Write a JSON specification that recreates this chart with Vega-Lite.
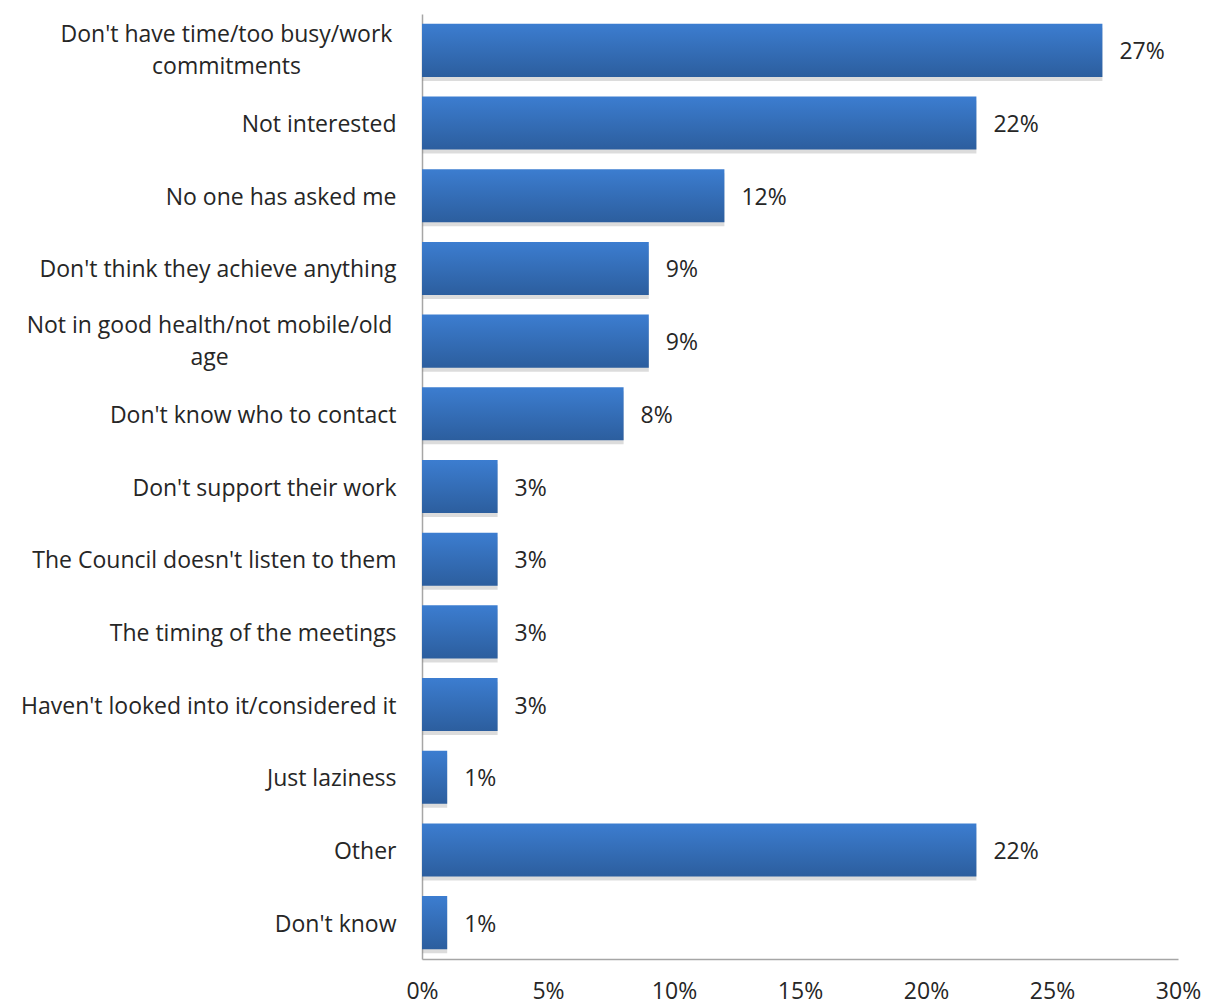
{
  "$schema": "https://vega.github.io/schema/vega-lite/v6.json",
  "width": 756,
  "height": 945,
  "autosize": "none",
  "padding": {"left": 422, "top": 14, "right": 27, "bottom": 46},
  "background": "white",
  "config": {"font": "Open Sans", "view": {"stroke": null}},
  "data": {
    "values": [
      {"reason": "Don't have time/too busy/work|commitments", "pct": 0.27},
      {"reason": "Not interested", "pct": 0.22},
      {"reason": "No one has asked me", "pct": 0.12},
      {"reason": "Don't think they achieve anything", "pct": 0.09},
      {"reason": "Not in good health/not mobile/old|age", "pct": 0.09},
      {"reason": "Don't know who to contact", "pct": 0.08},
      {"reason": "Don't support their work", "pct": 0.03},
      {"reason": "The Council doesn't listen to them", "pct": 0.03},
      {"reason": "The timing of the meetings", "pct": 0.03},
      {"reason": "Haven't looked into it/considered it", "pct": 0.03},
      {"reason": "Just laziness", "pct": 0.01},
      {"reason": "Other", "pct": 0.22},
      {"reason": "Don't know", "pct": 0.01}
    ]
  },
  "encoding": {
    "y": {
      "field": "reason",
      "type": "nominal",
      "sort": null,
      "scale": {"paddingInner": 0.27, "paddingOuter": 0.135},
      "axis": {
        "title": null,
        "ticks": false,
        "domainColor": "#a6a6a6",
        "domainWidth": 1.5,
        "labelPadding": {
          "condition": [
            {"test": "indexof(datum.value, 'commitments') >= 0", "value": 196},
            {"test": "indexof(datum.value, '|age') >= 0", "value": 213}
          ],
          "value": 26
        },
        "labelAlign": {"condition": {"test": "indexof(datum.value, '|') >= 0", "value": "center"}, "value": "right"},
        "labelOffset": {"condition": {"test": "indexof(datum.value, '|') >= 0", "value": -15}, "value": 2},
        "labelLimit": 0,
        "labelFontSize": 23,
        "labelColor": "#262626",
        "labelLineHeight": 32,
        "labelExpr": "split(datum.label, '|')"
      }
    },
    "x": {
      "field": "pct",
      "type": "quantitative",
      "scale": {"domain": [0, 0.3]},
      "axis": {
        "title": null,
        "values": [0, 0.05, 0.1, 0.15, 0.2, 0.25, 0.3],
        "format": ".0%",
        "grid": false,
        "ticks": false,
        "labelFlush": false,
        "domainColor": "#a6a6a6",
        "domainWidth": 1.5,
        "labelPadding": 21,
        "labelFontSize": 23,
        "labelColor": "#262626"
      }
    }
  },
  "layer": [
    {
      "mark": {"type": "bar", "color": "#8a8a8a", "opacity": 0.3, "yOffset": 4}
    },
    {
      "mark": {
        "type": "bar",
        "color": {
          "gradient": "linear",
          "x1": 0, "y1": 0, "x2": 0, "y2": 1,
          "stops": [
            {"offset": 0, "color": "#3c7dd0"},
            {"offset": 1, "color": "#2c5e9e"}
          ]
        }
      }
    },
    {
      "mark": {"type": "text", "align": "left", "dx": 17, "dy": 2, "fontSize": 23, "color": "#262626"},
      "encoding": {"text": {"field": "pct", "type": "quantitative", "format": ".0%"}}
    }
  ]
}
